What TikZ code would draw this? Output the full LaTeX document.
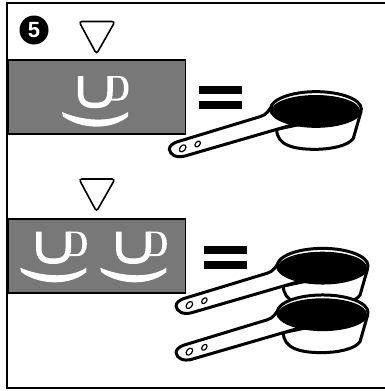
\documentclass[tikz,border=0pt]{standalone}
\usepackage{fontspec}
\setsansfont{Liberation Sans}
\tikzset{
	panel/.style={draw=black, line width=1.2pt, fill=black!53},
	marker/.style={draw=black, line width=1.6pt, rounded corners=3pt, fill=white},
	cupline/.style={draw=black, line width=3pt, fill=white, line join=round},
	holeline/.style={draw=black, line width=1.2pt, fill=white},
	bar/.style={fill=black},
	stepno/.style={circle, fill=black, text=white, inner sep=0pt, minimum size=29pt, font=\sffamily\bfseries\fontsize{22}{22}\selectfont},
}
\begin{document}
\begin{tikzpicture}[x=1pt, y=-1pt]
		\useasboundingbox (0,0) rectangle (385,391);
		% one fluid mark, drawn where the first panel has it
		\def\fluidmark#1#2{
			\begin{scope}[shift={(#1,#2)}]
				\draw[white, line width=5.5pt] (80.5,76) -- (80.5,92) .. controls (80.5,102) and (85,105.5) .. (95,105.5) .. controls (105,105.5) and (110,102) .. (110,92) -- (110,76);
				\fill[white] (110,76) -- (119,76) .. controls (125,76) and (128.5,80) .. (128.5,88) .. controls (128.5,96) and (125,100.5) .. (119,100.5) -- (110,100.5) -- (110,98.5) -- (118,98.5) .. controls (122,98.5) and (124,94) .. (124,88) .. controls (124,82) and (122,77.5) .. (118,77.5) -- (110,77.5) -- cycle;
				\fill[white] (62,112) .. controls (80,120) and (110,124) .. (128,112) -- (128,116.5) .. controls (112,130) and (82,130) .. (63,116.5) -- cycle;
			\end{scope}
		}
		% one cup, numbers are in thirds of a pixel
		\def\measurecup#1#2{
			\begin{scope}[shift={(#1,#2)}, scale=1/3]
				\draw[cupline] (603,95) -- (580,175) .. controls (565,198) and (510,208) .. (465,208) .. controls (400,208) and (350,195) .. (350,148) -- cycle;
				\draw[cupline] (395,135) -- (75,228) .. controls (50,235) and (30,225) .. (28,208) .. controls (28,197) and (40,190) .. (50,186) -- (300,110) .. controls (320,105) and (328,90) .. (340,70) -- cycle;
				\draw[holeline] (68,205) circle [x radius=12, y radius=8, rotate=50];
				\draw[holeline] (113,192) circle [x radius=10, y radius=6.5, rotate=50];
				\draw[cupline] (468,87) ellipse [x radius=136, y radius=52];
				\fill[black] (467,92) ellipse [x radius=133, y radius=47];
			\end{scope}
		}
		\coordinate (FT) at (7,3);
		\coordinate (FB) at (7,388);
		\draw[line width=1.6pt] (386,3) -- (FT) -- (FB) -- (386,388);
		\node[stepno] (stepfive) at (34,30) {5};
		\draw[marker] (79,21.5) -- (115,21.5) -- (96.5,54) -- cycle;
		\draw[marker] (79,179) -- (115,179) -- (96.5,211.5) -- cycle;
		\draw[panel] (8,60) rectangle (185.5,134);
		\draw[panel] (8,219) rectangle (185.5,293);
		\fluidmark{0}{0}
		\fluidmark{-41.7}{155.7}
		\fluidmark{38.3}{155.7}
		\fill[bar] (199,86) rectangle (242,94);
		\fill[bar] (199,101) rectangle (242,109);
		\fill[bar] (204,246) rectangle (247,254);
		\fill[bar] (204,261) rectangle (247,269);
		\measurecup{160}{80}
		\measurecup{166.7}{236.7}
		\measurecup{166.7}{283.3}
\end{tikzpicture}
\end{document}
